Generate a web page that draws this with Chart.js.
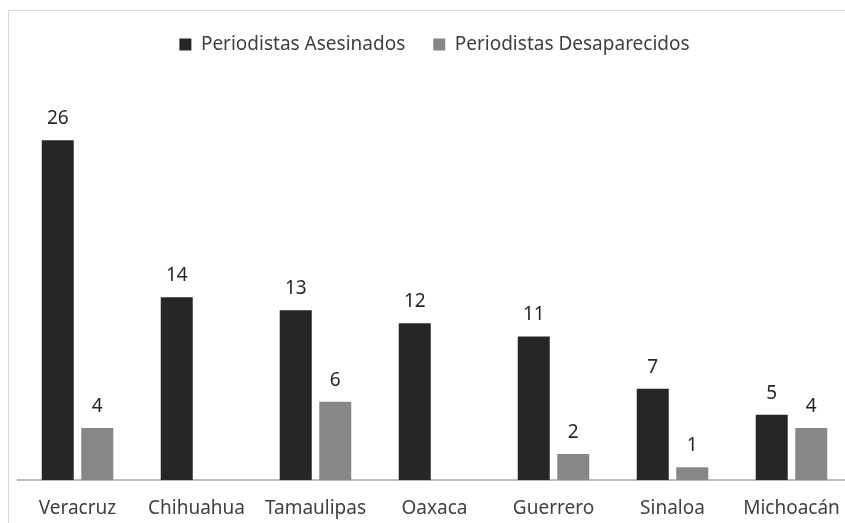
<!DOCTYPE html>
<html>
<head>
<meta charset="utf-8">
<script src="https://cdn.jsdelivr.net/npm/chart.js@4"></script>
<style>
  body { margin: 0; background: #fff; overflow: hidden; }
  #frame { position: absolute; left: 8px; top: 10px; width: 900px; height: 600px; border: 1px solid #d9d9d9; }
  #wrap { position: absolute; left: 0; top: 0; width: 870px; height: 536px; }
</style>
</head>
<body>
<div id="frame"></div>
<div id="wrap"><canvas id="barChart" width="870" height="536"></canvas></div>
<script>
const estados = ['Veracruz', 'Chihuahua', 'Tamaulipas', 'Oaxaca', 'Guerrero', 'Sinaloa', 'Michoacán'];
const asesinados = [26, 14, 13, 12, 11, 7, 5];
const desaparecidos = [4, null, 6, null, 2, 1, 4];

const fontFam = '"Noto Sans", sans-serif';

// etiquetas encima de cada barra
const valueLabels = {
  id: 'valueLabels',
  afterDatasetsDraw(chart) {
    const ctx = chart.ctx;
    ctx.save();
    ctx.fillStyle = '#262626';
    ctx.font = '19px ' + fontFam;
    ctx.textAlign = 'center';
    ctx.textBaseline = 'bottom';
    chart.data.datasets.forEach(function (ds, i) {
      chart.getDatasetMeta(i).data.forEach(function (bar, j) {
        if (ds.data[j] == null) return;
        ctx.fillText(ds.data[j], bar.x, bar.y - 12);
      });
    });
    ctx.restore();
  }
};

// un poco mas de espacio bajo la leyenda
const legendGap = {
  id: 'legendGap',
  beforeInit(chart) {
    const fit = chart.legend.fit;
    chart.legend.fit = function () {
      fit.bind(chart.legend)();
      this.height += 24;
    };
  }
};

new Chart(document.getElementById('barChart').getContext('2d'), {
  type: 'bar',
  data: {
    labels: estados,
    datasets: [
      {
        label: 'Periodistas Asesinados',
        data: asesinados,
        backgroundColor: '#262626',
        categoryPercentage: 0.664,
        barPercentage: 0.81,
      },
      {
        label: 'Periodistas Desaparecidos',
        data: desaparecidos,
        backgroundColor: '#878787',
        categoryPercentage: 0.664,
        barPercentage: 0.81,
      },
    ],
  },
  options: {
    responsive: false,
    animation: false,
    layout: { padding: { left: 18, right: 19, top: 7, bottom: 7 } },
    plugins: {
      legend: {
        labels: {
          boxWidth: 12,
          boxHeight: 12,
          color: '#404040',
          font: { family: fontFam, size: 19 },
          padding: 28,
        },
      },
      tooltip: { enabled: false },
    },
    scales: {
      x: {
        grid: { display: false },
        border: { color: '#bfbfbf', width: 2 },
        ticks: { color: '#404040', font: { family: fontFam, size: 19 }, padding: 9 },
      },
      y: {
        display: false,
        min: 0,
        max: 30,
      },
    },
  },
  plugins: [valueLabels, legendGap],
});
</script>
</body>
</html>
